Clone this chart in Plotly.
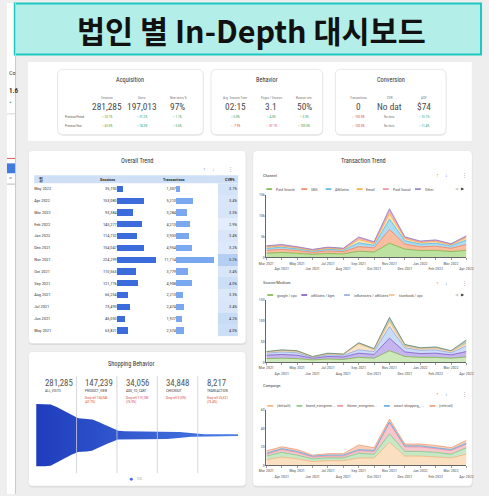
import numpy as np
import plotly.graph_objects as go

W, H = 489, 496
FONT = "Liberation Sans Narrow, Roboto Condensed, Roboto, sans-serif"
TXT = "#3a3a3a"
MUTED = "#7a7a7a"
UP = "#2e9e4f"
DOWN = "#e0463c"

# ---------------- data ----------------
page_title = "법인 별 In-Depth 대시보드"

acq_labels = ["Sessions", "Users", "New users %"]
acq_values = ["281,285", "197,013", "97%"]
acq_prev_period = [23.1, 31.2, 1.1]
acq_prev_year = [63.0, 74.3, 5.6]

beh_labels = ["Avg. Session Time", "Pages / Session", "Bounce rate"]
beh_values = ["02:15", "3.1", "50%"]
beh_prev_period = [0.0, 4.5, 3.3]
beh_prev_year = [-7.9, -37.1, 100.0]

conv_labels = ["Transactions", "CVR", "AOV"]
conv_values = ["0", "No dat", "$74"]
conv_prev_period = [-100.0, None, 15.1]
conv_prev_year = [-100.0, None, 11.4]

table_months = ["May 2022", "Apr 2022", "Mar 2022", "Feb 2022", "Jan 2022", "Dec 2021",
                "Nov 2021", "Oct 2021", "Sep 2021", "Aug 2021", "Jul 2021", "Jun 2021", "May 2021"]
table_sessions = [35750, 153080, 93384, 145277, 114732, 154047,
                  224299, 110563, 121776, 66254, 73490, 46050, 63821]
table_transactions = [1307, 5210, 3284, 4213, 3933, 4954,
                      11714, 3779, 4908, 2213, 2474, 1927, 2574]
table_cvr = [3.7, 3.4, 3.5, 2.9, 3.4, 3.2, 5.2, 3.4, 4.0, 3.3, 3.4, 4.2, 4.0]

funnel_stages = ["ALL_VISITS", "PRODUCT_VIEW", "ADD_TO_CART", "CHECKOUT", "TRANSACTION"]
funnel_values = [281285, 147239, 34056, 34848, 8217]

months = ["Mar 2021", "Apr 2021", "May 2021", "Jun 2021", "Jul 2021", "Aug 2021", "Sep 2021",
          "Oct 2021", "Nov 2021", "Dec 2021", "Jan 2022", "Feb 2022", "Mar 2022", "Apr 2022"]

# Channel (transactions)
ch_paid_search = [1000, 1200, 1000, 750, 950, 850, 1500, 1300, 3400, 2000, 1650, 1700, 1400, 1700]
ch_sns = [700, 750, 650, 450, 600, 550, 1100, 1000, 3300, 1200, 900, 1000, 800, 1400]
ch_affiliates = [450, 500, 400, 300, 400, 350, 900, 600, 2500, 800, 650, 700, 550, 1100]
ch_email = [300, 300, 250, 200, 250, 230, 800, 450, 1300, 500, 380, 450, 300, 550]
ch_paid_social = [200, 200, 170, 130, 170, 150, 380, 280, 750, 280, 220, 230, 150, 280]
ch_other = [150, 150, 104, 97, 104, 83, 228, 149, 464, 174, 133, 133, 84, 180]

# Source / Medium
sm_google_cpc = [9, 10, 9, 6, 8, 7, 12, 10, 28, 14, 12, 12, 10, 13]
sm_affiliates_kgm = [8, 9, 8, 4, 6, 6, 10, 9, 30, 11, 9, 10, 8, 13]
sm_influencers = [5, 6, 6, 2, 4, 4, 8, 7, 28, 10, 8, 8, 5, 14]
sm_facebook_cpc = [2, 3, 3, 1, 2, 2, 14, 4, 12, 4, 3, 4, 3, 6]
sm_direct = [2, 2, 2, 1, 2, 1, 3, 3, 10, 4, 3, 3, 2, 8]

# Campaign
cp_default = [6, 9, 7, 4, 5, 5, 8, 8, 25, 10, 10, 9, 8, 12]
cp_brand = [4, 5, 4, 3, 3, 3, 5, 4, 9, 5, 5, 5, 4, 7]
cp_theme = [2, 3, 3, 2, 2, 2, 3, 3, 12, 5, 5, 4, 4, 4]
cp_smart = [1, 1, 1, 1, 1, 1, 1, 1, 1, 1, 1, 1, 1, 1]
cp_referral = [2.5, 2, 2, 1, 1.6, 1.6, 5, 3, 3, 2, 2, 2.5, 2, 3]


# ---------------- helpers (pixel -> paper) ----------------
def X(p):
    return p / W


def Y(p):
    return 1 - p / H


shapes, notes = [], []


def rr_path(x0, y0, x1, y1, r):
    rx, ry = r / W, r / H
    a, b, c, d = X(x0), Y(y0), X(x1), Y(y1)
    return (f"M{a+rx},{b} L{c-rx},{b} Q{c},{b} {c},{b-ry} "
            f"L{c},{d+ry} Q{c},{d} {c-rx},{d} L{a+rx},{d} Q{a},{d} {a},{d+ry} "
            f"L{a},{b-ry} Q{a},{b} {a+rx},{b} Z")


def card(x0, y0, x1, y1, r=5, line="#e1e1e1", shadow=True):
    if shadow:
        shapes.append(dict(type="path", path=rr_path(x0, y0 + 0.8, x1 + 0.4, y1 + 1.4, r),
                           xref="paper", yref="paper", fillcolor="rgba(0,0,0,0.07)",
                           line=dict(width=0), layer="below"))
    shapes.append(dict(type="path", path=rr_path(x0, y0, x1, y1, r), xref="paper", yref="paper",
                       fillcolor="white", line=dict(color=line, width=0.6), layer="below"))


def rect(x0, y0, x1, y1, fill, line=None, lw=0, layer="below"):
    shapes.append(dict(type="rect", x0=X(x0), x1=X(x1), y0=Y(y1), y1=Y(y0), xref="paper",
                       yref="paper", fillcolor=fill,
                       line=dict(color=line or fill, width=lw), layer=layer))


def hline(x0, x1, y, color, width=1):
    shapes.append(dict(type="line", x0=X(x0), x1=X(x1), y0=Y(y), y1=Y(y), xref="paper",
                       yref="paper", line=dict(color=color, width=width)))


def note(x, y, text, size, color=TXT, xanchor="center", family=FONT, yanchor="middle"):
    notes.append(dict(x=X(x), y=Y(y), xref="paper", yref="paper", text=text, showarrow=False,
                      xanchor=xanchor, yanchor=yanchor,
                      font=dict(size=size, color=color, family=family)))


def delta_text(v):
    if v is None:
        return "No data", MUTED
    if v < 0:
        return f"↓ {v:.1f}%", DOWN
    return f"↑ {v:.1f}%", UP


# ---------------- page frame ----------------
rect(0, 0, 8.5, 496, "#ffffff")
shapes.append(dict(type="line", x0=X(8.8), x1=X(8.8), y0=0, y1=1, xref="paper", yref="paper",
                   line=dict(color="#c9c9c9", width=1)))
note(0, 70, "Co", 6, "#444", xanchor="left")
note(0, 89, "<b>1.6</b>", 7, "#333", xanchor="left")
note(0, 100, "▲", 3, UP, xanchor="left")
hline(0, 8.5, 112, "#d5d5d5", 1)
hline(0, 8.5, 157, "#e05a4e", 1)
rect(0, 162, 8.5, 172, "#3f7be0")
note(0, 177, "ıııı", 3, "#555", xanchor="left")
hline(0, 8.5, 183, "#d0d0d0", 1.5)

# title banner
rect(8, 0.5, 488, 52, "#b3efe8", line="#1cc8bf", lw=2)
note(252, 27, f"<b>{page_title}</b>", 30.5, "#111111", family="Noto Sans CJK KR")

# KPI strip
rect(21, 59, 479, 140, "#ffffff", line="#e6e6e6", lw=0.6)

kpi_cards = [
    ("Acquisition", (52, 67, 202, 133), [103, 139, 176], acq_labels, acq_values,
     acq_prev_period, acq_prev_year),
    ("Behavior", (210, 67, 325, 133), [235, 272, 306], beh_labels, beh_values,
     beh_prev_period, beh_prev_year),
    ("Conversion", (338, 67, 452, 133), [362, 394, 429], conv_labels, conv_values,
     conv_prev_period, conv_prev_year),
]
for name, (x0, y0, x1, y1), cols, labels, values, pp, pyr in kpi_cards:
    card(x0, y0, x1, y1, r=6, line="#d9d9d9")
    note((x0 + x1) / 2, 78, name, 6.3, "#333")
    for cx, lab, val, a, b in zip(cols, labels, values, pp, pyr):
        note(cx, 95.5, lab, 3.3, MUTED)
        note(cx, 104.5, val, 9.4, "#4a4a4a")
        t, c = delta_text(a)
        note(cx, 115.5, t, 3.3, c)
        t, c = delta_text(b)
        note(cx, 124.5, t, 3.3, c)
note(58, 115.5, "Previous Period", 3.1, "#555", xanchor="left")
note(58, 124.5, "Previous Year", 3.1, "#555", xanchor="left")

# panels
card(22, 149, 246, 344, r=4)
card(22, 352, 246, 488, r=4)
card(253, 149, 479, 488, r=4)

# ---------------- Overall Trend table ----------------
note(134, 160, "Overall Trend", 6.3, "#333")
note(203, 168, "↑", 5, "#9a9a9a")
note(213, 168, "↓", 5, "#9a9a9a")
note(230, 168, "⋮", 5, "#9a9a9a")
rect(28, 174, 238, 182, "#cfe0f6")
note(31, 178, "<b>월</b>", 4.2, "#333", xanchor="left", family="Noto Sans CJK KR")
note(103, 178, "<b>Sessions</b>", 4.2, "#333")
note(172, 178, "<b>Transactions</b>", 4.2, "#333")
note(237, 178, "<b>CVR%</b>", 4.2, "#333", xanchor="right")

n_rows = len(table_months)
tfont = dict(size=4.4, color=TXT, family=FONT)
traces = []
traces.append(go.Scatter(x=[0] * n_rows, y=table_months, mode="text", text=table_months,
                         textposition="middle right", textfont=tfont, cliponaxis=False,
                         xaxis="x", yaxis="y", hoverinfo="skip"))
traces.append(go.Bar(x=table_sessions, y=table_months, orientation="h", width=0.52,
                     marker=dict(color="#3c6cdc", line=dict(width=0)),
                     xaxis="x2", yaxis="y", hoverinfo="skip"))
traces.append(go.Scatter(x=[0] * n_rows, y=table_months, mode="text",
                         text=[f"{v:,}" for v in table_sessions], textposition="middle left",
                         textfont=tfont, cliponaxis=False, xaxis="x2", yaxis="y",
                         hoverinfo="skip"))
traces.append(go.Bar(x=table_transactions, y=table_months, orientation="h", width=0.52,
                     marker=dict(color="#79a8f0", line=dict(width=0)),
                     xaxis="x3", yaxis="y", hoverinfo="skip"))
traces.append(go.Scatter(x=[0] * n_rows, y=table_months, mode="text",
                         text=[f"{v:,}" for v in table_transactions], textposition="middle left",
                         textfont=tfont, cliponaxis=False, xaxis="x3", yaxis="y",
                         hoverinfo="skip"))
traces.append(go.Heatmap(z=[[v] for v in table_cvr], x=[0], y=table_months,
                         colorscale=[[0, "#e3edfb"], [1, "#b5cff2"]], showscale=False,
                         xaxis="x4", yaxis="y", hoverinfo="skip"))
traces.append(go.Scatter(x=[0.45] * n_rows, y=table_months, mode="text",
                         text=[f"{v:.1f}%" for v in table_cvr], textposition="middle left",
                         textfont=tfont, cliponaxis=False, xaxis="x4", yaxis="y",
                         hoverinfo="skip"))

# ---------------- Shopping Behavior funnel ----------------
note(128, 365, "Shopping Behavior", 6.3, "#333")
xs = np.linspace(0, len(funnel_values), 601)
env = np.full_like(xs, float(funnel_values[0]))
for i in range(len(funnel_values) - 1):
    a, b = i + 0.25, i + 1.15
    t = np.clip((xs - a) / (b - a), 0, 1)
    env = env + (funnel_values[i + 1] - funnel_values[i]) * t * t * (3 - 2 * t)
traces.append(go.Scatter(x=np.concatenate([xs, xs[::-1]]),
                         y=np.concatenate([env / 2, -env[::-1] / 2]),
                         mode="lines", fill="toself", line=dict(width=0),
                         fillgradient=dict(type="horizontal",
                                           colorscale=[[0, "#1f3cbc"], [1, "#4a7de6"]]),
                         xaxis="x5", yaxis="y2", hoverinfo="skip"))
for i in range(1, len(funnel_values)):
    shapes.append(dict(type="line", xref="x5", yref="paper", x0=i, x1=i, y0=Y(475), y1=Y(377),
                       line=dict(color="#c9cbdc", width=0.8)))
for i, (stage, val) in enumerate(zip(funnel_stages, funnel_values)):
    notes.append(dict(x=i + 0.17, y=Y(383.5), xref="x5", yref="paper", text=f"{val:,}",
                      showarrow=False, xanchor="left", yanchor="middle",
                      font=dict(size=8.8, color="#555", family=FONT)))
    notes.append(dict(x=i + 0.17, y=Y(392), xref="x5", yref="paper", text=stage,
                      showarrow=False, xanchor="left", yanchor="middle",
                      font=dict(size=3.5, color="#444", family=FONT)))
    if i > 0:
        prev = funnel_values[i - 1]
        drop = max(prev - val, 0)
        pct = drop / prev * 100
        txt = f"Drop-off {drop:,}<br>({pct:.1f}%)" if drop else "Drop-off 0 (0%)"
        notes.append(dict(x=i + 0.17, y=Y(394.5), xref="x5", yref="paper", text=txt,
                          showarrow=False, xanchor="left", yanchor="top", align="left",
                          font=dict(size=3.4, color=DOWN, family=FONT)))
shapes.append(dict(type="circle", xref="paper", yref="paper", x0=X(126.5), x1=X(129.5),
                   y0=Y(482.5), y1=Y(479.5), fillcolor="#3c6cdc", line=dict(width=0)))
note(132, 481, "1/2", 3.6, MUTED, xanchor="left")

# ---------------- Transaction Trend (stacked areas) ----------------
note(367, 160, "Transaction Trend", 6.3, "#333")


def chart_header(label, y_label, y_icons, y_leg, items, arrows=True):
    note(262, y_label, label, 4.4, "#444", xanchor="left")
    note(443, y_icons, "↑", 5, "#9a9a9a")
    note(452, y_icons, "↓", 5, "#4a7bd0")
    note(471, y_icons, "⋮", 5, "#9a9a9a")
    for xi, color, name in items:
        shapes.append(dict(type="line", xref="paper", yref="paper", x0=X(xi), x1=X(xi + 6),
                           y0=Y(y_leg), y1=Y(y_leg), line=dict(color=color, width=1.6)))
        note(xi + 8, y_leg, name, 4, "#555", xanchor="left")
    if arrows:
        note(463, y_leg, "◀", 3.6, "#cccccc")
        note(469, y_leg, "▶", 3.6, "#333333")


channel_series = [("Paid Search", ch_paid_search, "#7cb342", "rgba(182,222,150,0.9)"),
                  ("SNS", ch_sns, "#f07f5a", "rgba(248,182,152,0.9)"),
                  ("Affiliates", ch_affiliates, "#4fb6e6", "rgba(164,216,240,0.9)"),
                  ("Email", ch_email, "#f3ad3f", "rgba(252,224,172,0.9)"),
                  ("Paid Social", ch_paid_social, "#ef8aa0", "rgba(248,192,206,0.9)"),
                  ("Other", ch_other, "#8e7cc3", "rgba(206,196,232,0.9)")]
source_series = [("google / cpc", sm_google_cpc, "#7cb342", "rgba(200,230,180,0.9)"),
                 ("affiliates / kgm", sm_affiliates_kgm, "#7e57c2", "rgba(192,172,236,0.9)"),
                 ("influencers / affiliates", sm_influencers, "#8fa7e0", "rgba(196,216,246,0.9)"),
                 ("facebook / cpc", sm_facebook_cpc, "#f0bf86", "rgba(250,226,192,0.9)"),
                 ("(direct) / (none)", sm_direct, "#5f806e", "rgba(172,198,182,0.9)")]
campaign_series = [("(default)", cp_default, "#f4b27a", "rgba(251,219,186,0.9)"),
                   ("brand_evergreen...", cp_brand, "#7fc583", "rgba(192,229,192,0.9)"),
                   ("theme_evergreen...", cp_theme, "#ec8e9b", "rgba(247,192,200,0.9)"),
                   ("smart shopping_...", cp_smart, "#5aa7e4", "rgba(182,216,246,0.9)"),
                   ("(referral)", cp_referral, "#f09a76", "rgba(250,202,178,0.9)")]

charts = [("x6", "y3", "ch", channel_series, 194, 257, 15000, 5000),
          ("x7", "y4", "sm", source_series, 300, 363, 150, 50),
          ("x8", "y5", "cp", campaign_series, 411, 467, 60, 20)]
for xa, ya, grp, series, _, _, _, _ in charts:
    for name, vals, lc, fc in series:
        traces.append(go.Scatter(x=months, y=vals, name=name, mode="lines", stackgroup=grp,
                                 line=dict(color=lc, width=0.8), fillcolor=fc,
                                 xaxis=xa, yaxis=ya, hoverinfo="skip"))

chart_header("Channel", 174, 174, 188,
             [(267, channel_series[0][2], "Paid Search"), (303, channel_series[1][2], "SNS"),
              (328, channel_series[2][2], "Affiliates"), (360, channel_series[3][2], "Email"),
              (387, channel_series[4][2], "Paid Social"), (420, channel_series[5][2], "Other")])
chart_header("Source/Medium", 282, 283, 295,
             [(268, source_series[0][2], "google / cpc"),
              (303, source_series[1][2], "affiliates / kgm"),
              (347, source_series[2][2], "influencers / affiliates"),
              (393, source_series[3][2], "facebook / cpc")])
chart_header("Campaign", 386, 395, 407,
             [(268, campaign_series[0][2], "(default)"),
              (298, campaign_series[1][2], "brand_evergreen..."),
              (340, campaign_series[2][2], "theme_evergreen..."),
              (388, campaign_series[3][2], "smart shopping_..."),
              (435, campaign_series[4][2], "(referral)")], arrows=False)

# ---------------- axes ----------------
hidden = dict(visible=False, fixedrange=True, showgrid=False, zeroline=False)
layout_axes = {}
layout_axes["yaxis"] = dict(hidden, domain=[Y(337), Y(182)], type="category",
                            categoryorder="array", categoryarray=table_months,
                            range=[n_rows - 0.5, -0.5], anchor="x")
layout_axes["xaxis"] = dict(hidden, domain=[X(28), X(100)], range=[0, 1], anchor="y")
layout_axes["xaxis2"] = dict(hidden, domain=[X(113), X(160)],
                             range=[0, max(table_sessions) * 47 / 40], anchor="y")
layout_axes["xaxis3"] = dict(hidden, domain=[X(174), X(216)],
                             range=[0, max(table_transactions) * 42 / 39], anchor="y")
layout_axes["xaxis4"] = dict(hidden, domain=[X(217), X(238)], range=[-0.5, 0.5], anchor="y")

R = funnel_values[0] / 2 * 73 / 63
layout_axes["xaxis5"] = dict(hidden, domain=[X(30), X(238)], range=[0, len(funnel_values)],
                             anchor="y2")
layout_axes["yaxis2"] = dict(hidden, domain=[Y(473), Y(400)], range=[-R, R], anchor="x5")

tick_text = [m if i % 2 == 0 else "<br>" + m for i, m in enumerate(months)]
for xa, ya, _, _, top, bottom, ymax, step in charts:
    xk = "xaxis" + xa[1:]
    yk = "yaxis" + ya[1:]
    layout_axes[xk] = dict(domain=[X(267), X(473)], anchor=ya, type="category",
                           range=[0, len(months) - 1], tickmode="array", tickvals=months,
                           ticktext=tick_text, tickfont=dict(size=4, color="#555", family=FONT),
                           showline=True, linecolor="#666", linewidth=0.6, ticks="outside",
                           ticklen=1.5, tickcolor="#999", tickwidth=0.5, showgrid=False,
                           zeroline=False, fixedrange=True, tickangle=0)
    layout_axes[yk] = dict(domain=[Y(bottom), Y(top)], anchor=xa, range=[0, ymax],
                           tickmode="array", tickvals=list(range(0, ymax + 1, step)),
                           tickformat="~s", tickfont=dict(size=4, color="#555", family=FONT),
                           showline=True, linecolor="#666", linewidth=0.6, showgrid=False,
                           zeroline=False, fixedrange=True, ticks="")

fig = go.Figure(data=traces)
fig.update_layout(width=W, height=H, autosize=False, margin=dict(l=0, r=0, t=0, b=0),
                  paper_bgcolor="#eeeeee", plot_bgcolor="rgba(0,0,0,0)", showlegend=False,
                  shapes=shapes, annotations=notes, bargap=0, **layout_axes)
fig.write_html("out.html", config={"displayModeBar": False})
